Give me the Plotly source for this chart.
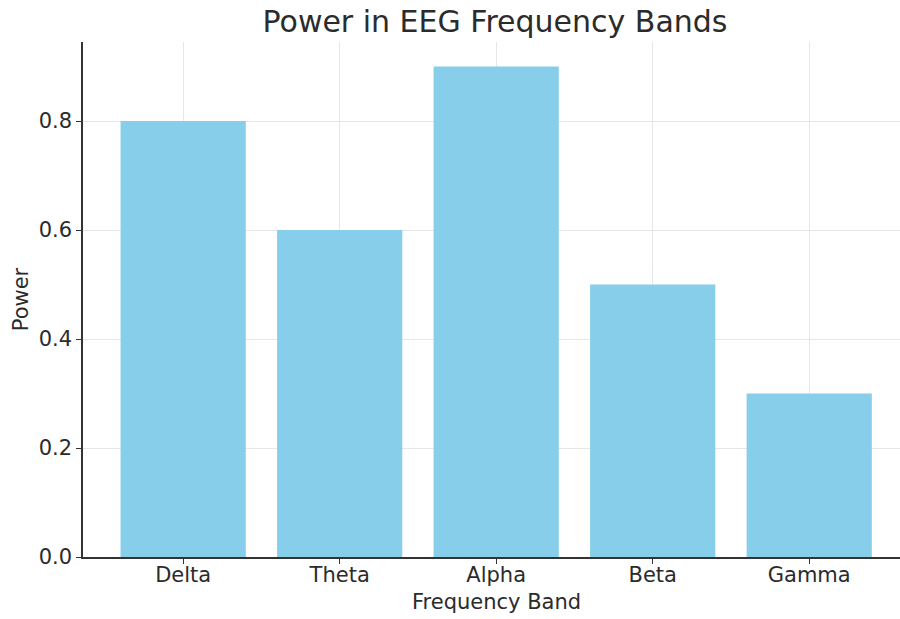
import plotly.graph_objects as go

bands = ["Delta", "Theta", "Alpha", "Beta", "Gamma"]
power = [0.8, 0.6, 0.9, 0.5, 0.3]
y_ticks = [0.0, 0.2, 0.4, 0.6, 0.8]

W, H = 900, 619
PLOT_TOP, PLOT_BOT = 42, 557
L, R, T = 83, 0, PLOT_TOP
PH = PLOT_BOT - PLOT_TOP
B = H - T - PH
FONT = "DejaVu Sans"
TXT = "#2b2b2b"

fig = go.Figure()
fig.add_trace(go.Bar(x=bands, y=power, marker=dict(color="#87CEEB", line=dict(width=0)), width=0.8))

fig.update_layout(
    width=W, height=H,
    margin=dict(l=L, r=R, t=T, b=B, pad=0, autoexpand=False),
    paper_bgcolor="white", plot_bgcolor="white",
    showlegend=False,
    font=dict(family=FONT, color=TXT, size=21),
    title=dict(text="Power in EEG Frequency Bands", font=dict(family=FONT, size=30, color=TXT),
               x=495 / W, xanchor="center", xref="container", yref="container",
               y=1 - 21 / H, yanchor="middle"),
    xaxis=dict(range=[-0.64, 4.58], showgrid=True, gridcolor="#e6e6e6", gridwidth=1,
               showline=True, linecolor="#333333", linewidth=1.5,
               ticks="outside", ticklen=5, tickcolor="#333333", tickwidth=1.2,
               ticklabelstandoff=-7,
               tickfont=dict(size=21, family=FONT, color=TXT), zeroline=False, fixedrange=True),
    yaxis=dict(range=[0, 0.945], tickvals=y_ticks, ticktext=[f"{v:.1f}" for v in y_ticks],
               showgrid=True, gridcolor="#e6e6e6", gridwidth=1,
               showline=True, linecolor="#333333", linewidth=1.5,
               ticks="outside", ticklen=5, tickcolor="#333333", tickwidth=1.2,
               tickfont=dict(size=21, family=FONT, color=TXT), zeroline=False,
               title=dict(text="Power", font=dict(size=21, family=FONT, color=TXT), standoff=4)),
    annotations=[dict(text="Frequency Band", xref="paper", yref="paper",
                      x=(496 - L) / (W - L - R), y=-45 / PH, xanchor="center", yanchor="middle",
                      showarrow=False, font=dict(size=21, family=FONT, color=TXT))],
)

fig.write_html("out.html", config={"displayModeBar": False},
               post_script="document.body.style.margin='0';document.body.style.overflow='hidden';")
